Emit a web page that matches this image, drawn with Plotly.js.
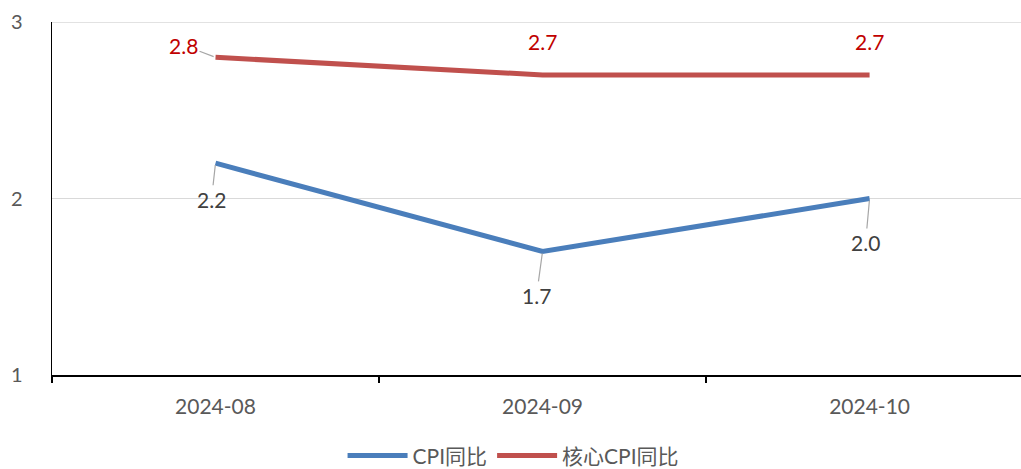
<!DOCTYPE html>
<html><head><meta charset="utf-8">
<script src="https://cdn.plot.ly/plotly-3.0.1.min.js"></script>
<style>html,body{margin:0;padding:0;background:#fff}#c{width:1021px;height:469px}</style>
</head><body><div id="c"></div>
<script>
const months = ["2024-08", "2024-09", "2024-10"];
const cpiYoY = [2.2, 1.7, 2.0];
const coreCpiYoY = [2.8, 2.7, 2.7];
const seriesNames = ["CPI同比", "核心CPI同比"];

const FONT = "Lato, 'Noto Sans CJK SC', sans-serif";
const traces = [
  {x: months, y: cpiYoY, name: seriesNames[0], type: "scatter", mode: "lines",
   line: {color: "#4A7EBB", width: 5}},
  {x: months, y: coreCpiYoY, name: seriesNames[1], type: "scatter", mode: "lines",
   line: {color: "#C0504D", width: 5}}
];

const blueOffsets = [[-4, 36], [-6, 44], [-4, 44]];
const annotations = [];
cpiYoY.forEach((v, i) => {
  annotations.push({x: months[i], y: v, text: v.toFixed(1), showarrow: true,
    arrowhead: 0, arrowwidth: 1.2, arrowcolor: "#A6A6A6", ax: blueOffsets[i][0], ay: blueOffsets[i][1],
    standoff: 2, font: {family: FONT, size: 21, color: "#404040"}});
});
coreCpiYoY.forEach((v, i) => {
  if (i === 0) {
    annotations.push({x: months[i], y: v, text: v.toFixed(1), showarrow: true,
      arrowhead: 0, arrowwidth: 1.2, arrowcolor: "#A6A6A6", ax: -32, ay: -12,
      standoff: 2, font: {family: FONT, size: 21, color: "#C00000"}});
  } else {
    annotations.push({x: months[i], y: v, text: v.toFixed(1), showarrow: false,
      yshift: 33, font: {family: FONT, size: 21, color: "#C00000"}});
  }
});

const layout = {
  width: 1021, height: 469,
  margin: {l: 52, r: 0, t: 22, b: 94, autoexpand: false},
  paper_bgcolor: "#fff", plot_bgcolor: "#fff",
  font: {family: FONT, color: "#595959"},
  showlegend: true,
  legend: {orientation: "h", x: 0.503, xanchor: "center", xref: "container",
    y: -0.229, yanchor: "middle", yref: "paper",
    font: {family: FONT, size: 21, color: "#595959"}, itemwidth: 60, traceorder: "normal"},
  xaxis: {type: "category", range: [-0.5, 2.463], tickson: "boundaries",
    ticks: "outside", ticklen: 6, tickcolor: "#000", tickwidth: 1.5,
    showline: true, linecolor: "#000", linewidth: 1.5, showgrid: false,
    tickfont: {family: FONT, size: 21, color: "#595959"}, ticklabelstandoff: 12, fixedrange: true},
  yaxis: {range: [1, 3], tickvals: [1, 2, 3], showline: true, linecolor: "#000", linewidth: 1.5,
    showgrid: true, gridcolor: "#D9D9D9", gridwidth: 1.5, zeroline: false, ticks: "",
    tickfont: {family: FONT, size: 20, color: "#595959"}, ticklabelstandoff: 24},
  shapes: [{type: "line", xref: "paper", x0: 0, x1: 1, yref: "y", y0: 3, y1: 3,
    line: {color: "#D9D9D9", width: 1.5}, layer: "below"}],
  annotations: annotations
};
Plotly.newPlot("c", traces, layout, {displayModeBar: false, staticPlot: true});
</script></body></html>
